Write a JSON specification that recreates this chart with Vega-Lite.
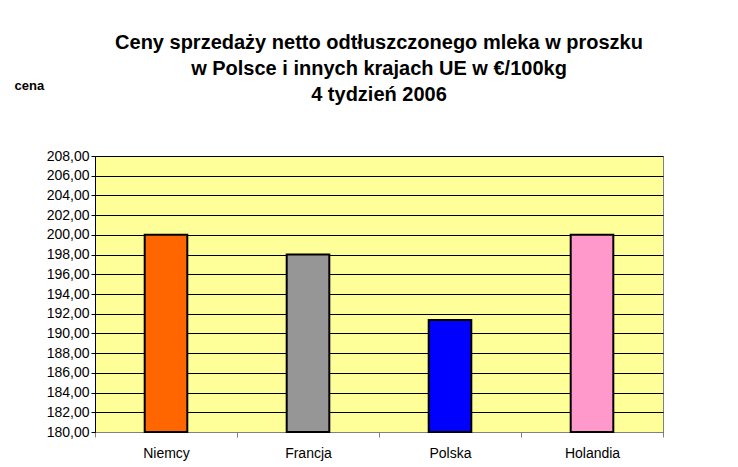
{
  "$schema": "https://vega.github.io/schema/vega-lite/v6.json",
  "autosize": "none",
  "width": 568,
  "height": 276,
  "padding": {"left": 95, "top": 156, "right": 75, "bottom": 35},
  "background": "white",
  "title": {
    "text": ["Ceny sprzedaży netto odtłuszczonego mleka w proszku", "w Polsce i innych krajach UE w €/100kg", "4 tydzień 2006"],
    "font": "Liberation Sans",
    "fontSize": 20,
    "fontWeight": "bold",
    "color": "black",
    "lineHeight": 26,
    "anchor": "middle",
    "offset": -26
  },
  "data": {
    "values": [
      {"kraj": "Niemcy", "cena": 200},
      {"kraj": "Francja", "cena": 198},
      {"kraj": "Polska", "cena": 191.35},
      {"kraj": "Holandia", "cena": 200}
    ]
  },
  "mark": {"type": "bar", "width": {"band": 0.3}, "stroke": "black", "strokeWidth": 2},
  "encoding": {
    "x": {
      "field": "kraj",
      "type": "nominal",
      "sort": null,
      "scale": {"paddingInner": 0, "paddingOuter": 0},
      "axis": {
        "title": null,
        "labelAngle": 0,
        "labelFont": "Liberation Sans",
        "labelFontSize": 14,
        "labelColor": "black",
        "labelPadding": 9,
        "tickBand": "extent",
        "tickSize": 5,
        "tickColor": "#808080",
        "domainColor": "#808080",
        "grid": false
      }
    },
    "y": {
      "field": "cena",
      "type": "quantitative",
      "scale": {"domain": [180, 208], "zero": false, "nice": false},
      "axis": {
        "title": "cena",
        "titleAngle": 0,
        "titleAlign": "left",
        "titleBaseline": "middle",
        "titleX": -81,
        "titleY": -71,
        "titleFont": "Liberation Sans",
        "titleFontSize": 13,
        "titleFontWeight": "bold",
        "titleColor": "black",
        "values": [180, 182, 184, 186, 188, 190, 192, 194, 196, 198, 200, 202, 204, 206, 208],
        "labelExpr": "replace(format(datum.value, '.2f'), '.', ',')",
        "labelFont": "Liberation Sans",
        "labelFontSize": 14,
        "labelColor": "black",
        "labelPadding": 2,
        "tickSize": 4,
        "tickColor": "black",
        "domainColor": "black",
        "grid": true,
        "gridColor": "black",
        "gridOpacity": 1,
        "gridWidth": 1
      }
    },
    "y2": {"datum": 180},
    "color": {
      "field": "kraj",
      "type": "nominal",
      "scale": {
        "domain": ["Niemcy", "Francja", "Polska", "Holandia"],
        "range": ["#FF6600", "#969696", "#0000FF", "#FF99CC"]
      },
      "legend": null
    }
  },
  "config": {
    "view": {"fill": "#FFFF99", "stroke": "#808080", "strokeWidth": 1}
  }
}
